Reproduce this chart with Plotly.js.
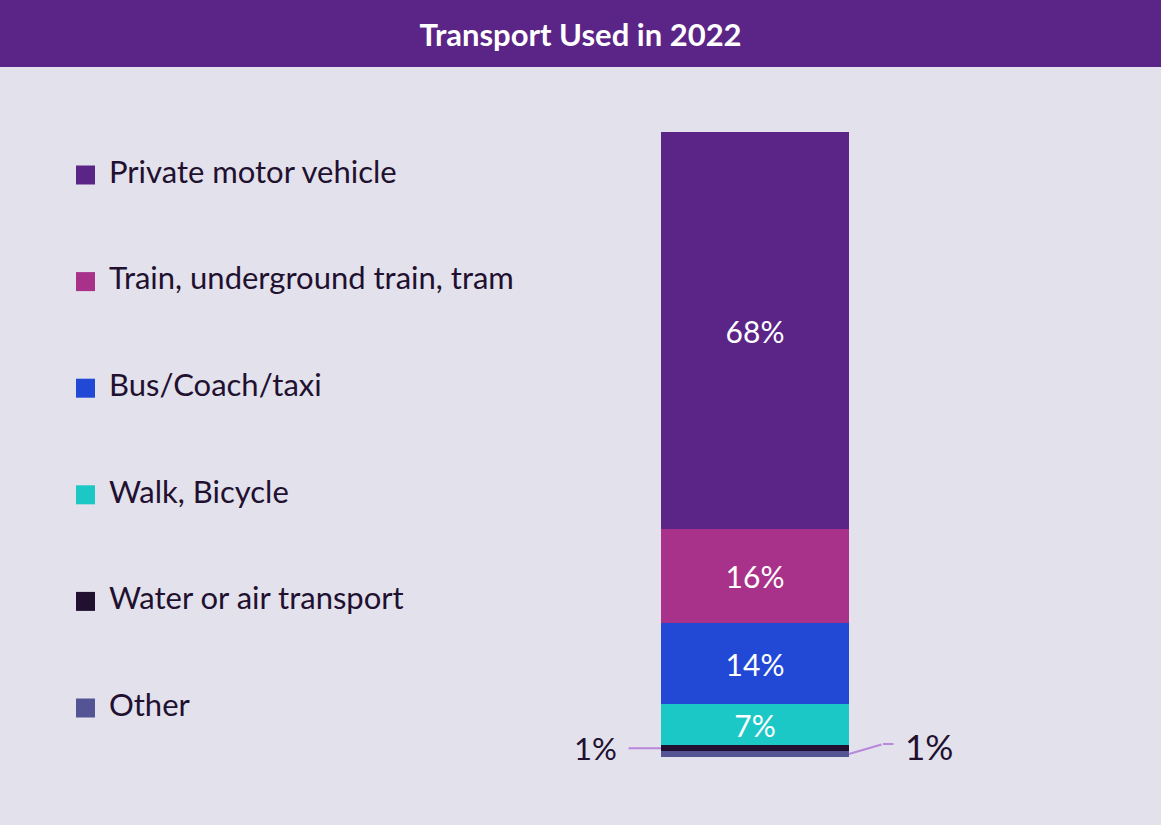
<!DOCTYPE html>
<html><head><meta charset="utf-8">
<script src="https://cdn.plot.ly/plotly-3.0.1.min.js"></script>
<style>html,body{margin:0;padding:0;background:#e3e1eb;}#chart{width:1161px;height:825px;}</style>
</head><body><div id="chart"></div>
<script>
// Data (legend order, top to bottom)
const categories = ["Private motor vehicle","Train, underground train, tram","Bus/Coach/taxi","Walk, Bicycle","Water or air transport","Other"];
const values = [68, 16, 14, 7, 1, 1];
const colors = ["#5b2587","#a8318a","#2249d6","#1bc8c6","#21102f","#545495"];
const barLabel = "2022";

const FONT = "Lato, 'Source Sans Pro', 'Noto Sans', sans-serif";
const TXT = "#21102f";
const LEADER = "#b888dc";

// stacked bar traces: bottom to top = reverse of legend order
const traces = [];
for (let i = categories.length - 1; i >= 0; i--) {
  traces.push({
    type: 'bar', x: [barLabel], y: [values[i]], name: categories[i],
    marker: {color: colors[i], line: {width: 0}},
    text: values[i] >= 5 ? [values[i] + '%'] : [''],
    textposition: 'inside', insidetextanchor: 'middle',
    textfont: {family: FONT, size: 30, color: '#ffffff'},
    constraintext: 'none',
    width: 1, hoverinfo: 'name+y', showlegend: false,
    xaxis: 'x', yaxis: 'y'
  });
}
// legend as scatter on a second axis pair (pixel-like units)
traces.push({
  type: 'scatter', mode: 'markers',
  x: categories.map(() => 0), y: categories,
  marker: {symbol: 'square', size: 19, color: colors, line: {width: 0}},
  cliponaxis: false, hoverinfo: 'skip', showlegend: false,
  xaxis: 'x2', yaxis: 'y2'
});
traces.push({
  type: 'scatter', mode: 'text',
  x: categories.map(() => 23.5), y: categories,
  text: categories, textposition: 'middle right',
  textfont: {family: FONT, size: 31, color: TXT},
  cliponaxis: false, hoverinfo: 'skip', showlegend: false,
  xaxis: 'x2', yaxis: 'y2'
});

const total = values.reduce((a, b) => a + b, 0);
const otherMid = values[5] / 2;
const waterMid = values[5] + values[4] / 2;

const layout = {
  width: 1161, height: 825,
  margin: {l: 0, r: 0, t: 0, b: 0, pad: 0},
  paper_bgcolor: '#e3e1eb', plot_bgcolor: 'rgba(0,0,0,0)',
  barmode: 'stack', showlegend: false,
  font: {family: FONT, color: TXT},
  title: {text: '<b>Transport Used in 2022</b>', x: 0.5, xanchor: 'center', y: 1 - 35/825, yanchor: 'middle',
          font: {family: FONT, size: 31, color: '#ffffff'}},
  xaxis: {type: 'category', domain: [661/1161, 849/1161], range: [-0.5, 0.5], visible: false, fixedrange: true},
  yaxis: {domain: [1 - 757/825, 1 - 132/825], range: [0, total], visible: false, fixedrange: true},
  xaxis2: {domain: [0, 0.5], range: [-85.5, 495], visible: false, fixedrange: true, anchor: 'y2'},
  yaxis2: {domain: [0, 1], type: 'category', range: [(825-175)/106.6, -175/106.6], visible: false, fixedrange: true, anchor: 'x2'},
  shapes: [
    {type: 'rect', xref: 'paper', yref: 'paper', x0: 0, x1: 1, y0: 1 - 67/825, y1: 1, fillcolor: '#5b2587', line: {width: 0}, layer: 'below'}
  ],
  annotations: [
    // left leader line (Water or air transport)
    {xref: 'x', yref: 'y', x: -0.5, y: waterMid, text: '', showarrow: true, arrowhead: 0, arrowwidth: 2, arrowcolor: LEADER,
     ax: -34, ay: 0, standoff: 0, startstandoff: 0},
    {xref: 'x', yref: 'y', x: -0.5, y: waterMid, text: values[4] + '%', showarrow: false, xanchor: 'right', yanchor: 'middle',
     xshift: -42, font: {family: FONT, size: 31, color: TXT}},
    // right bent leader line (Other)
    {xref: 'x', yref: 'y', x: 0.5, y: otherMid, text: '', showarrow: true, arrowhead: 0, arrowwidth: 2, arrowcolor: LEADER,
     ax: 34, ay: -10, standoff: 0, startstandoff: 0},
    {xref: 'x', yref: 'y', x: 0.5, y: otherMid, text: '', showarrow: true, arrowhead: 0, arrowwidth: 2, arrowcolor: LEADER,
     xshift: 34, yshift: 10, ax: 12, ay: 0, standoff: 0, startstandoff: 0},
    {xref: 'x', yref: 'y', x: 0.5, y: otherMid, text: values[5] + '%', showarrow: false, xanchor: 'left', yanchor: 'middle',
     xshift: 54, yshift: 8, font: {family: FONT, size: 35, color: TXT}}
  ]
};
Plotly.newPlot('chart', traces, layout, {displayModeBar: false, staticPlot: true});
</script></body></html>
